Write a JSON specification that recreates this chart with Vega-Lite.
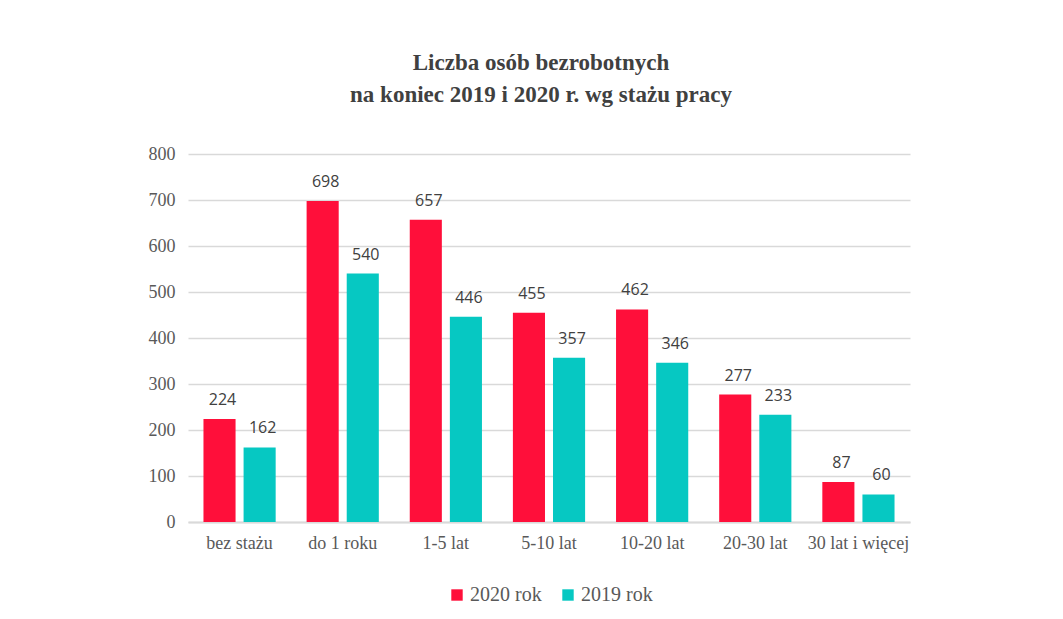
{
  "$schema": "https://vega.github.io/schema/vega-lite/v6.json",
  "width": 722,
  "height": 368,
  "autosize": "none",
  "padding": {"left": 188, "top": 154, "right": 153, "bottom": 97},
  "background": "white",
  "title": {
    "text": ["Liczba osób bezrobotnych", "na koniec 2019 i 2020 r. wg stażu pracy"],
    "font": "Liberation Serif",
    "fontSize": 23,
    "fontWeight": "bold",
    "color": "#404040",
    "lineHeight": 32,
    "anchor": "middle",
    "dx": -8,
    "offset": 38
  },
  "data": {
    "values": [
      {"staz": "bez stażu", "rok": "2020 rok", "liczba": 224},
      {"staz": "bez stażu", "rok": "2019 rok", "liczba": 162},
      {"staz": "do 1 roku", "rok": "2020 rok", "liczba": 698},
      {"staz": "do 1 roku", "rok": "2019 rok", "liczba": 540},
      {"staz": "1-5 lat", "rok": "2020 rok", "liczba": 657},
      {"staz": "1-5 lat", "rok": "2019 rok", "liczba": 446},
      {"staz": "5-10 lat", "rok": "2020 rok", "liczba": 455},
      {"staz": "5-10 lat", "rok": "2019 rok", "liczba": 357},
      {"staz": "10-20 lat", "rok": "2020 rok", "liczba": 462},
      {"staz": "10-20 lat", "rok": "2019 rok", "liczba": 346},
      {"staz": "20-30 lat", "rok": "2020 rok", "liczba": 277},
      {"staz": "20-30 lat", "rok": "2019 rok", "liczba": 233},
      {"staz": "30 lat i więcej", "rok": "2020 rok", "liczba": 87},
      {"staz": "30 lat i więcej", "rok": "2019 rok", "liczba": 60}
    ]
  },
  "encoding": {
    "x": {
      "field": "staz",
      "type": "nominal",
      "sort": null,
      "scale": {"paddingInner": 0.3, "paddingOuter": 0.15},
      "axis": {
        "title": null,
        "labelAngle": 0,
        "labelFont": "Liberation Serif",
        "labelFontSize": 18,
        "labelColor": "#595959",
        "labelPadding": 12,
        "ticks": false,
        "domainColor": "#D9D9D9",
        "domainWidth": 2
      }
    },
    "xOffset": {
      "field": "rok",
      "type": "nominal",
      "sort": ["2020 rok", "2019 rok"],
      "scale": {"paddingInner": 0.2, "paddingOuter": 0}
    },
    "y": {
      "field": "liczba",
      "type": "quantitative",
      "scale": {"domain": [0, 800]},
      "axis": {
        "title": null,
        "values": [0, 100, 200, 300, 400, 500, 600, 700, 800],
        "labelFont": "Liberation Serif",
        "labelFontSize": 18,
        "labelColor": "#595959",
        "labelPadding": 13,
        "ticks": false,
        "domain": false,
        "gridColor": "#D9D9D9",
        "gridWidth": 1.5
      }
    }
  },
  "layer": [
    {
      "mark": {"type": "bar"},
      "encoding": {
        "color": {
          "field": "rok",
          "type": "nominal",
          "scale": {"domain": ["2020 rok", "2019 rok"], "range": ["#FF0F3A", "#06C8C2"]},
          "legend": {
            "title": null,
            "orient": "none",
            "legendX": 259,
            "legendY": 431,
            "direction": "horizontal",
            "symbolType": "square",
            "symbolSize": 130,
            "symbolStrokeWidth": 0,
            "labelFont": "Liberation Serif",
            "labelFontSize": 20,
            "labelColor": "#595959",
            "labelOffset": 3,
            "columnPadding": 16
          }
        }
      }
    },
    {
      "mark": {"type": "text", "baseline": "bottom", "dy": -11, "dx": 3, "font": "Open Sans", "fontSize": 16, "color": "#404040"},
      "encoding": {
        "text": {"field": "liczba", "type": "quantitative"}
      }
    }
  ],
  "config": {
    "view": {"stroke": null}
  }
}
